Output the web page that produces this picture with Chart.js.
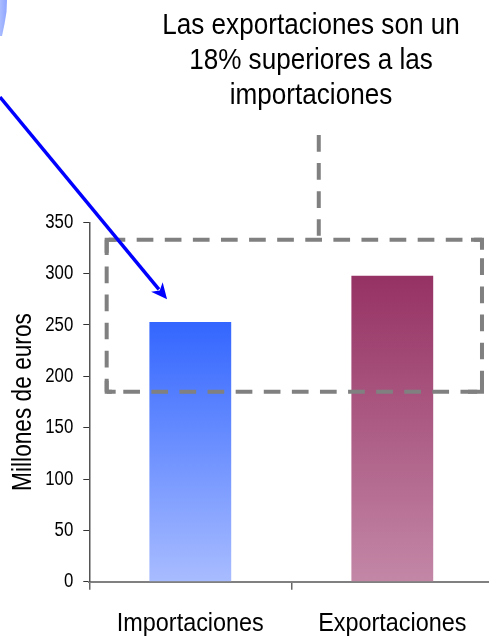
<!DOCTYPE html>
<html>
<head>
<meta charset="utf-8">
<script src="https://cdn.jsdelivr.net/npm/chart.js@4/dist/chart.umd.min.js"></script>
<style>
  html, body { margin: 0; padding: 0; background: #fff; overflow: hidden; }
  #wrap { width: 495px; height: 638px; }
</style>
</head>
<body>
<div id="wrap"><canvas id="c" width="495" height="638"></canvas></div>
<script>
// Comercio exterior, millones de euros
const categories = ['Importaciones', 'Exportaciones'];
const values = [253, 298];
const yTicks = [0, 50, 100, 150, 200, 250, 300, 350];
const noteLines = ['Las exportaciones son un', '18% superiores a las', 'importaciones'];
const axisTitle = 'Millones de euros';

const FONT = '"Liberation Sans", Arial, sans-serif';

// narrow lettering: horizontal squeeze applied per font size
const SQUEEZE = { 20: 0.84, 26: 0.9, 27: 0.84, 30: 0.87 };

// top / bottom colours of each bar's vertical gradient
const barTop = ['#3366ff', '#963264'];
const barBottom = ['#a8bcff', '#c387a6'];

function barFill(c) {
  const chart = c.chart;
  const i = c.dataIndex;
  if (!chart.chartArea || i === undefined) return barTop[i || 0];
  const ys = chart.scales.y;
  const y0 = ys.getPixelForValue(values[i]);
  const y1 = ys.getPixelForValue(0);
  const g = chart.ctx.createLinearGradient(0, y0, 0, y1);
  g.addColorStop(0, barTop[i]);
  g.addColorStop(1, barBottom[i]);
  return g;
}

// condensed text: every string is drawn squeezed around its anchor point
const narrowText = {
  id: 'narrowText',
  beforeInit(chart) {
    const ctx = chart.ctx;
    const fill = ctx.fillText;
    ctx.fillText = function (text, x, y, maxWidth) {
      const m = /(\d+(?:\.\d+)?)px/.exec(this.font);
      const size = m ? Math.round(parseFloat(m[1])) : 12;
      const k = SQUEEZE[size] || 1;
      this.save();
      this.translate(x, y);
      this.scale(k, 1);
      if (maxWidth === undefined) fill.call(this, text, 0, 0);
      else fill.call(this, text, 0, 0, maxWidth / k);
      this.restore();
    };
  }
};

// callout: dashed frame around the bar tops, connector, note text and arrow
const callout = {
  id: 'callout',
  afterDatasetsDraw(chart) {
    const ctx = chart.ctx;
    const xs = chart.scales.x, ys = chart.scales.y;
    const cw = xs.getPixelForValue(1) - xs.getPixelForValue(0);
    const X = u => xs.getPixelForValue(0) + u * cw;   // u in category units
    const Y = v => ys.getPixelForValue(v);            // v in millions

    const L = X(-0.414), R = X(1.444), T = Y(333), B = Y(185);
    const P = 28.1, D = 16.7;

    ctx.save();
    ctx.strokeStyle = '#808080';
    ctx.lineWidth = 4;
    ctx.lineCap = 'butt';

    function dashed(x1, y1, x2, y2, start) {
      ctx.setLineDash([D, P - D]);
      ctx.lineDashOffset = P - (start % P);
      ctx.beginPath();
      ctx.moveTo(x1, y1);
      ctx.lineTo(x2, y2);
      ctx.stroke();
    }
    dashed(L, T, R, T, 30);
    dashed(R, T, R, B, 46.7);
    dashed(L, B, R, B, 16.6);
    dashed(L, T, L, B, 26.7);

    // corner pieces
    ctx.setLineDash([]);
    const k = 9;
    ctx.beginPath();
    ctx.moveTo(L + k, T); ctx.lineTo(L, T); ctx.lineTo(L, T + 13);
    ctx.moveTo(R - 11, T); ctx.lineTo(R, T); ctx.lineTo(R, T + 10);
    ctx.moveTo(R, B - 12); ctx.lineTo(R, B); ctx.lineTo(R - 14, B);
    ctx.moveTo(L, B - 11); ctx.lineTo(L, B); ctx.lineTo(L + k, B);
    ctx.stroke();

    // connector up to the note
    const cx = X(0.636);
    ctx.setLineDash([D, P - D]);
    ctx.lineDashOffset = 0;
    ctx.beginPath();
    ctx.moveTo(cx, Y(435));
    ctx.lineTo(cx, T - 4);
    ctx.stroke();
    ctx.setLineDash([]);

    // note text
    ctx.fillStyle = '#000';
    ctx.font = '30px ' + FONT;
    ctx.textAlign = 'center';
    ctx.textBaseline = 'alphabetic';
    noteLines.forEach((s, j) => ctx.fillText(s, 311, 33.5 + j * 35));

    // blue arrow pointing at the imports bar
    const ax0 = X(-0.942), ay0 = Y(472);
    const ax1 = X(-0.115), ay1 = Y(275);
    const ang = Math.atan2(ay1 - ay0, ax1 - ax0);
    const hl = 16, hw = 7.5;
    ctx.strokeStyle = '#0000ff';
    ctx.fillStyle = '#0000ff';
    ctx.lineWidth = 3.5;
    ctx.beginPath();
    ctx.moveTo(ax0, ay0);
    ctx.lineTo(ax1 - Math.cos(ang) * hl * 0.8, ay1 - Math.sin(ang) * hl * 0.8);
    ctx.stroke();
    ctx.beginPath();
    ctx.moveTo(ax1, ay1);
    ctx.lineTo(ax1 - Math.cos(ang) * hl - Math.sin(ang) * hw, ay1 - Math.sin(ang) * hl + Math.cos(ang) * hw);
    ctx.lineTo(ax1 - Math.cos(ang) * hl * 0.72, ay1 - Math.sin(ang) * hl * 0.72);
    ctx.lineTo(ax1 - Math.cos(ang) * hl + Math.sin(ang) * hw, ay1 - Math.sin(ang) * hl - Math.cos(ang) * hw);
    ctx.closePath();
    ctx.fill();

    // edge of a light-blue callout shape at the top left
    const g = ctx.createLinearGradient(0, 0, 8, 0);
    g.addColorStop(0, '#a9bbff');
    g.addColorStop(1, '#8aa2ff');
    ctx.fillStyle = g;
    ctx.beginPath();
    ctx.moveTo(0, 0); ctx.lineTo(7, 0); ctx.lineTo(6.5, 12); ctx.lineTo(4.5, 24);
    ctx.lineTo(2, 36); ctx.lineTo(0, 36);
    ctx.closePath();
    ctx.fill();
    ctx.restore();
  }
};

new Chart(document.getElementById('c').getContext('2d'), {
  type: 'bar',
  data: {
    labels: categories,
    datasets: [{
      data: values,
      backgroundColor: barFill,
      borderWidth: 0,
      barPercentage: 0.405,
      categoryPercentage: 1
    }]
  },
  options: {
    responsive: false,
    animation: false,
    devicePixelRatio: 1,
    layout: { padding: { top: 222.3, right: 1.7, bottom: 0, left: 0 } },
    plugins: { legend: { display: false }, tooltip: { enabled: false } },
    scales: {
      x: {
        grid: { display: true, drawOnChartArea: false, tickLength: 8, color: '#666', lineWidth: 1.5 },
        border: { color: '#808080', width: 2 },
        ticks: { color: '#000', font: { family: FONT, size: 26 }, padding: 19 },
        afterFit: s => { s.height = 56.3; }
      },
      y: {
        min: 0,
        max: 350,
        afterBuildTicks: s => { s.ticks = yTicks.map(v => ({ value: v })); },
        grid: { drawOnChartArea: false, tickLength: 6, color: '#333', lineWidth: 1 },
        border: { color: '#555', width: 1.5 },
        ticks: { color: '#000', font: { family: FONT, size: 20 }, padding: 10 },
        title: {
          display: true, text: axisTitle, color: '#000',
          font: { family: FONT, size: 27 }, padding: { top: 7, bottom: 0 }
        },
        afterFit: s => { s.width = 89.3; }
      }
    }
  },
  plugins: [narrowText, callout]
});
</script>
</body>
</html>
